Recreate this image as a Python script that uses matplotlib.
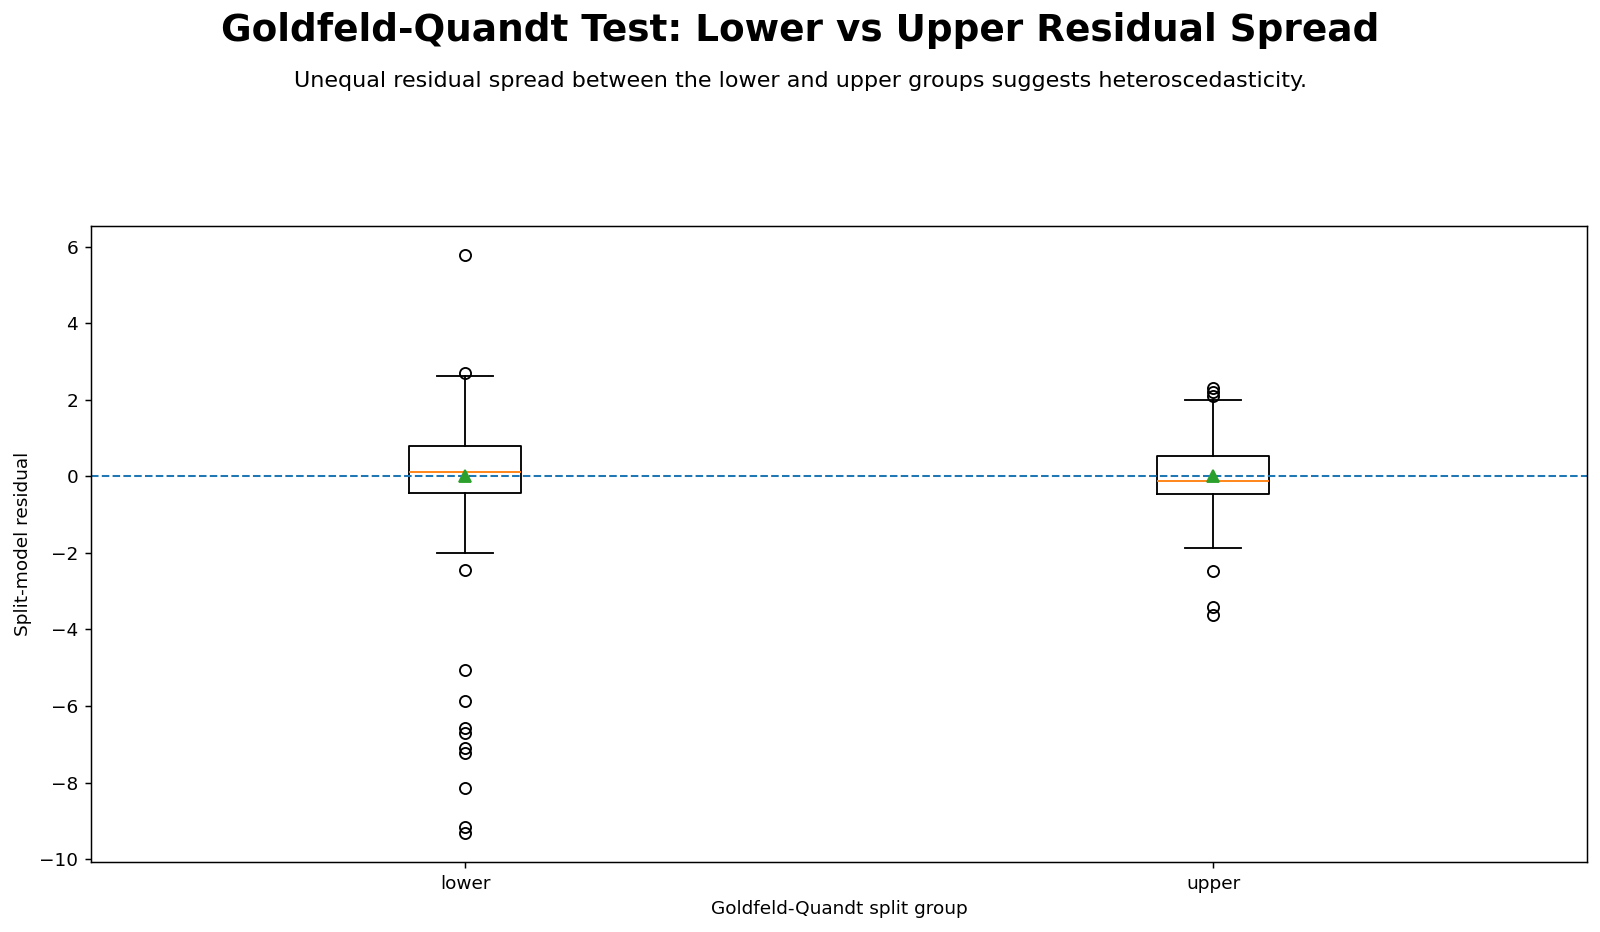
import numpy as np
import matplotlib
matplotlib.use("Agg")
import matplotlib.pyplot as plt

# Goldfeld-Quandt split groups
groups = ["lower", "upper"]
q1 = [-0.44, -0.47]
median = [0.10, -0.12]
q3 = [0.79, 0.53]
whis_lo = [-2.00, -1.87]
whis_hi = [2.63, 2.00]
means = [0.0, 0.0]
fliers_lower = [5.77, 2.69, -2.44, -5.05, -5.87, -6.58, -6.70, -7.09, -7.22,
                -8.13, -9.16, -9.32]
fliers_upper = [2.30, 2.21, 2.10, -2.48, -3.40, -3.62]
fliers = [fliers_lower, fliers_upper]

stats = []
for i, g in enumerate(groups):
    stats.append({
        "label": g,
        "q1": q1[i],
        "med": median[i],
        "q3": q3[i],
        "whislo": whis_lo[i],
        "whishi": whis_hi[i],
        "mean": means[i],
        "fliers": np.array(fliers[i]),
    })

DPI = 400 / 3
fig = plt.figure(figsize=(12, 6.99), dpi=DPI)
ax = fig.add_axes([0.057, 0.075, 0.935, 0.682])

ax.bxp(stats, showmeans=True)
ax.axhline(0, linestyle="--", color="C0", linewidth=1.1)

ax.set_xlabel("Goldfeld-Quandt split group")
ax.set_ylabel("Split-model residual")

fig.text(0.5, 0.967, "Goldfeld-Quandt Test: Lower vs Upper Residual Spread",
         ha="center", va="center", fontsize=20.2, fontweight="bold")
fig.text(0.5, 0.913,
         "Unequal residual spread between the lower and upper groups suggests heteroscedasticity.",
         ha="center", va="center", fontsize=12)

fig.savefig("out.png", dpi=DPI)
